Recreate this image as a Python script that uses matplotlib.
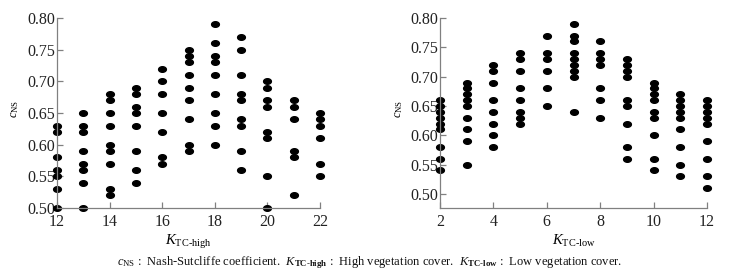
import matplotlib
matplotlib.use("Agg")
import matplotlib.pyplot as plt
import numpy as np
from matplotlib.path import Path

plt.rcParams['font.family'] = ['Liberation Serif', 'DejaVu Serif']
plt.rcParams['mathtext.fontset'] = 'custom'
plt.rcParams['mathtext.rm'] = 'Liberation Serif'
plt.rcParams['mathtext.it'] = 'Liberation Serif:italic'
plt.rcParams['mathtext.bf'] = 'Liberation Serif:bold'

# Left panel: K_TC-high
high_x = [12, 13, 14, 15, 16, 17, 18, 19, 20, 21, 22]
high_y = [
    [0.63, 0.62, 0.58, 0.56, 0.55, 0.53, 0.50],
    [0.65, 0.63, 0.62, 0.59, 0.57, 0.56, 0.54, 0.50],
    [0.68, 0.67, 0.65, 0.63, 0.60, 0.59, 0.57, 0.53, 0.52],
    [0.69, 0.68, 0.66, 0.65, 0.63, 0.59, 0.56, 0.54],
    [0.72, 0.70, 0.68, 0.65, 0.62, 0.58, 0.57],
    [0.75, 0.74, 0.73, 0.71, 0.69, 0.67, 0.64, 0.60, 0.59],
    [0.79, 0.76, 0.74, 0.73, 0.71, 0.68, 0.65, 0.63, 0.60],
    [0.77, 0.75, 0.71, 0.68, 0.67, 0.64, 0.63, 0.59, 0.56],
    [0.70, 0.69, 0.67, 0.66, 0.62, 0.61, 0.55, 0.50],
    [0.67, 0.66, 0.64, 0.59, 0.58, 0.52],
    [0.65, 0.64, 0.63, 0.61, 0.57, 0.55],
]

# Right panel: K_TC-low
low_x = [2, 3, 4, 5, 6, 7, 8, 9, 10, 11, 12]
low_y = [
    [0.66, 0.65, 0.64, 0.63, 0.62, 0.61, 0.58, 0.56, 0.54],
    [0.69, 0.68, 0.67, 0.66, 0.65, 0.63, 0.61, 0.59, 0.55],
    [0.72, 0.71, 0.69, 0.66, 0.64, 0.62, 0.60, 0.58],
    [0.74, 0.73, 0.71, 0.68, 0.66, 0.64, 0.63, 0.62],
    [0.77, 0.74, 0.73, 0.71, 0.68, 0.65],
    [0.79, 0.77, 0.76, 0.74, 0.73, 0.72, 0.71, 0.70, 0.64],
    [0.76, 0.74, 0.73, 0.72, 0.68, 0.66, 0.63],
    [0.73, 0.72, 0.71, 0.70, 0.66, 0.65, 0.62, 0.58, 0.56],
    [0.69, 0.68, 0.67, 0.66, 0.64, 0.63, 0.60, 0.56, 0.54],
    [0.67, 0.66, 0.65, 0.64, 0.63, 0.61, 0.58, 0.55, 0.53],
    [0.66, 0.65, 0.64, 0.63, 0.62, 0.59, 0.56, 0.53, 0.51],
]

high_ticks = [12, 14, 16, 18, 20, 22]
low_ticks = [2, 4, 6, 8, 10, 12]
y_ticks = [0.50, 0.55, 0.60, 0.65, 0.70, 0.75, 0.80]

# horizontal ellipse marker
_t = np.linspace(0, 2*np.pi, 40)
ellipse = Path(np.column_stack([np.cos(_t), 0.72*np.sin(_t)]), closed=True)

fig = plt.figure(figsize=(7.39, 2.73), dpi=100)
ax1 = fig.add_axes([57/739, 1-208/273, 263/739, 190/273])
ax2 = fig.add_axes([440/739, 1-208/273, 267/739, 190/273])

spine_col = '#808080'

def style(ax, xs, ys, xlim, ylim, xticks, xlabel):
    for x, col in zip(xs, ys):
        ax.plot([x]*len(col), col, linestyle='none', marker=ellipse,
                markersize=5.6, color='black', clip_on=False)
    ax.set_xlim(*xlim)
    ax.set_ylim(*ylim)
    ax.set_xticks(xticks)
    ax.set_yticks(y_ticks)
    ax.set_yticklabels([f"{v:.2f}" for v in y_ticks])
    for s in ['top', 'right']:
        ax.spines[s].set_visible(False)
    for s in ['left', 'bottom']:
        ax.spines[s].set_color(spine_col)
        ax.spines[s].set_linewidth(0.9)
    ax.tick_params(direction='in', length=4, width=0.9, color=spine_col,
                   labelsize=11.5, labelcolor='#222222')
    ax.tick_params(axis='y', pad=1)
    ax.tick_params(axis='x', pad=4.5)
    ax.set_xlabel(xlabel, fontsize=10.5, labelpad=2)
    ax.set_ylabel(r'$c_{\mathrm{NS}}$', fontsize=9, labelpad=2, rotation=90)
    ax.yaxis.set_label_coords(-0.135, 0.52)

style(ax1, high_x, high_y, (12, 22), (0.50, 0.80), high_ticks, r'$K_{\mathrm{TC\text{-}high}}$')
style(ax2, low_x, low_y, (2, 12), (0.476, 0.80), low_ticks, r'$K_{\mathrm{TC\text{-}low}}$')
ax2.yaxis.set_label_coords(-0.13, 0.52)

fig.text(0.5, 1-263/273,
         r'$c_{\mathrm{NS}}$ :  Nash-Sutcliffe coefficient.  $K_{\mathbf{TC\text{-}high}}$ :  High vegetation cover.  $K_{\mathbf{TC\text{-}low}}$ :  Low vegetation cover.',
         ha='center', va='center', fontsize=9, color='#111111')

fig.savefig('out.png', dpi=100)
